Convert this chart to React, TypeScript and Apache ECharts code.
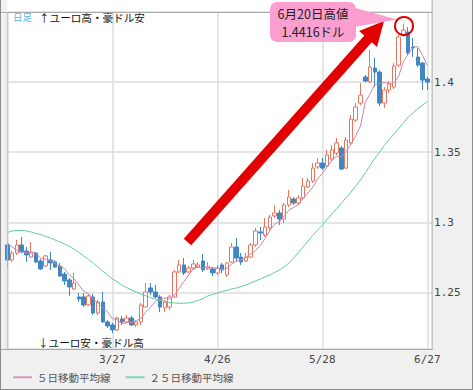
import React, { useEffect, useRef } from 'react';
import * as echarts from 'echarts';

const dates = ['2/25','2/26','2/27','2/28','3/1','3/4','3/5','3/6','3/7','3/8',
'3/11','3/12','3/13','3/14','3/15','3/18','3/19','3/20','3/21','3/22',
'3/25','3/26','3/27','3/28','3/29','4/1','4/2','4/3','4/4','4/5',
'4/8','4/9','4/10','4/11','4/12','4/15','4/16','4/17','4/18','4/19',
'4/22','4/23','4/24','4/25','4/26','4/29','4/30','5/1','5/2','5/3',
'5/6','5/7','5/8','5/9','5/10','5/13','5/14','5/15','5/16','5/17',
'5/20','5/21','5/22','5/23','5/24','5/27','5/28','5/29','5/30','5/31',
'6/3','6/4','6/5','6/6','6/7','6/10','6/11','6/12','6/13','6/14',
'6/17','6/18','6/19','6/20','6/21','6/24','6/25','6/26','6/27','6/28'];

const opens = [1.2839,1.2732,1.2782,1.2839,1.2796,1.2753,1.2782,1.2725,1.2689,1.2732,
1.2718,1.2689,1.2632,1.2590,1.2526,1.2469,1.2469,1.2412,1.2469,1.2355,
1.2433,1.2291,1.2269,1.2234,1.2312,1.2291,1.2319,1.2269,1.2291,1.2397,
1.2533,1.2504,1.2469,1.2390,1.2397,1.2469,1.2647,1.2697,1.2647,1.2675,
1.2682,1.2725,1.2668,1.2668,1.2640,1.2697,1.2625,1.2718,1.2825,1.2753,
1.2725,1.2753,1.2839,1.2932,1.2910,1.2960,1.3046,1.3067,1.3024,1.3124,
1.3167,1.3138,1.3174,1.3252,1.3295,1.3395,1.3423,1.3402,1.3452,1.3494,
1.3530,1.3387,1.3566,1.3729,1.3850,1.4036,1.4000,1.4100,1.4071,1.3850,
1.3943,1.3964,1.4121,1.4335,1.4356,1.4249,1.4178,1.4135,1.4021];

const closes = [1.2732,1.2782,1.2839,1.2789,1.2768,1.2782,1.2718,1.2668,1.2761,1.2711,
1.2682,1.2618,1.2583,1.2540,1.2568,1.2454,1.2412,1.2476,1.2355,1.2433,
1.2291,1.2262,1.2234,1.2319,1.2291,1.2319,1.2269,1.2291,1.2412,1.2504,
1.2504,1.2469,1.2397,1.2433,1.2469,1.2647,1.2697,1.2640,1.2675,1.2704,
1.2697,1.2661,1.2682,1.2640,1.2675,1.2661,1.2711,1.2825,1.2746,1.2718,
1.2753,1.2839,1.2939,1.2924,1.2967,1.3038,1.3067,1.3024,1.3124,1.3181,
1.3138,1.3174,1.3259,1.3295,1.3387,1.3423,1.3387,1.3480,1.3516,1.3566,
1.3380,1.3587,1.3736,1.3822,1.3907,1.4007,1.4107,1.4071,1.3850,1.3943,
1.3986,1.4114,1.4321,1.4370,1.4207,1.4242,1.4121,1.4014,1.4000];

const highs = [1.2853,1.2796,1.2875,1.2896,1.2825,1.2860,1.2789,1.2739,1.2768,1.2789,
1.2732,1.2711,1.2647,1.2604,1.2640,1.2497,1.2497,1.2490,1.2490,1.2447,
1.2504,1.2305,1.2284,1.2326,1.2333,1.2340,1.2333,1.2305,1.2426,1.2568,
1.2568,1.2554,1.2483,1.2447,1.2483,1.2661,1.2732,1.2746,1.2689,1.2732,
1.2718,1.2775,1.2718,1.2682,1.2697,1.2711,1.2718,1.2853,1.2889,1.2782,
1.2782,1.2853,1.2960,1.2967,1.3031,1.3053,1.3124,1.3088,1.3138,1.3231,
1.3181,1.3195,1.3316,1.3316,1.3423,1.3459,1.3459,1.3516,1.3551,1.3601,
1.3544,1.3608,1.3765,1.3850,1.3993,1.4050,1.4228,1.4171,1.4085,1.3964,
1.4007,1.4135,1.4335,1.4416,1.4392,1.4313,1.4242,1.4142,1.4036];

const lows = [1.2675,1.2718,1.2768,1.2782,1.2718,1.2746,1.2711,1.2661,1.2682,1.2661,
1.2675,1.2611,1.2554,1.2476,1.2518,1.2433,1.2397,1.2405,1.2340,1.2340,
1.2284,1.2248,1.2212,1.2226,1.2269,1.2284,1.2262,1.2255,1.2269,1.2397,
1.2483,1.2462,1.2362,1.2362,1.2376,1.2462,1.2640,1.2625,1.2640,1.2661,
1.2675,1.2647,1.2661,1.2618,1.2625,1.2640,1.2611,1.2711,1.2718,1.2697,
1.2718,1.2746,1.2825,1.2875,1.2896,1.2946,1.3031,1.2981,1.2996,1.3110,
1.3124,1.3124,1.3160,1.3245,1.3281,1.3380,1.3373,1.3387,1.3437,1.3480,
1.3373,1.3380,1.3551,1.3715,1.3836,1.4000,1.3993,1.3964,1.3829,1.3815,
1.3922,1.3950,1.4107,1.4321,1.4192,1.4178,1.4107,1.3943,1.3943];

const ma5 = [1.2853,1.2825,1.2803,1.2793,1.2782,1.2792,1.2779,1.2745,1.2739,1.2728,
1.2708,1.2688,1.2671,1.2627,1.2598,1.2553,1.2511,1.2490,1.2453,1.2426,
1.2393,1.2363,1.2315,1.2308,1.2279,1.2285,1.2286,1.2298,1.2316,1.2359,
1.2396,1.2436,1.2457,1.2461,1.2454,1.2483,1.2528,1.2580,1.2625,1.2672,
1.2682,1.2675,1.2684,1.2677,1.2671,1.2664,1.2674,1.2702,1.2724,1.2732,
1.2751,1.2776,1.2799,1.2835,1.2885,1.2942,1.2987,1.3004,1.3044,1.3087,
1.3107,1.3128,1.3175,1.3209,1.3251,1.3308,1.3350,1.3395,1.3439,1.3474,
1.3466,1.3506,1.3557,1.3618,1.3687,1.3855,1.3916,1.3983,1.3989,1.3996,
1.3991,1.3993,1.4043,1.4147,1.4199,1.4251,1.4252,1.4191,1.4117];

const ma25 = [1.2928,1.2939,1.2942,1.2942,1.2939,1.2932,1.2921,1.2914,1.2900,1.2889,
1.2875,1.2860,1.2846,1.2828,1.2810,1.2786,1.2761,1.2736,1.2711,1.2682,
1.2654,1.2625,1.2597,1.2579,1.2554,1.2536,1.2518,1.2504,1.2490,1.2476,
1.2465,1.2454,1.2444,1.2437,1.2429,1.2426,1.2424,1.2424,1.2426,1.2433,
1.2444,1.2458,1.2476,1.2486,1.2497,1.2508,1.2515,1.2526,1.2533,1.2543,
1.2554,1.2568,1.2583,1.2597,1.2611,1.2625,1.2643,1.2661,1.2682,1.2711,
1.2746,1.2786,1.2825,1.2867,1.2907,1.2946,1.2981,1.3021,1.3060,1.3099,
1.3138,1.3177,1.3216,1.3259,1.3302,1.3352,1.3405,1.3455,1.3501,1.3548,
1.3590,1.3630,1.3669,1.3708,1.3751,1.3779,1.3811,1.3836,1.3861];

const seriesNames = ['５日移動平均線', '２５日移動平均線'];
const yMin = 1.2098;
const yMax = 1.4499;
const labelStep = 22;

const CJK = "'Noto Sans CJK JP', sans-serif";
const MONO = "'DejaVu Sans Mono', monospace";

function arrowPoints(tail: number[], tip: number[], sh: number, headLen: number, hh: number) {
  const dx = tip[0] - tail[0];
  const dy = tip[1] - tail[1];
  const len = Math.hypot(dx, dy);
  const ux = dx / len, uy = dy / len;
  const vx = -uy, vy = ux;
  const bx = tip[0] - headLen * ux, by = tip[1] - headLen * uy;
  return [
    [tail[0] - sh * vx, tail[1] - sh * vy],
    [bx - sh * vx, by - sh * vy],
    [bx - hh * vx, by - hh * vy],
    [tip[0], tip[1]],
    [bx + hh * vx, by + hh * vy],
    [bx + sh * vx, by + sh * vy],
    [tail[0] + sh * vx, tail[1] + sh * vy],
  ];
}

export default function App() {
  const ref = useRef<HTMLDivElement>(null);
  useEffect(() => {
    const chart = echarts.init(ref.current!, null, { renderer: 'svg' });
    const candles = opens.map((o, i) => [o, closes[i], lows[i], highs[i]]);
    const borderColor = '#a9a9a9';
    const option: any = {
      animation: false,
      backgroundColor: '#f0f0f0',
      grid: { left: 7.3, right: 40.9, top: 12, bottom: 41, show: true, backgroundColor: '#ffffff', borderWidth: 0 },
      legend: {
        data: seriesNames,
        left: 8,
        top: 367,
        icon: 'rect',
        itemWidth: 19,
        itemHeight: 2,
        itemGap: 15,
        textStyle: { fontSize: 10.5, color: '#555', fontFamily: CJK },
      },
      xAxis: {
        type: 'category',
        data: dates,
        boundaryGap: false,
        axisLine: { show: false },
        axisTick: { show: false },
        axisLabel: {
          interval: (i: number) => i % labelStep === 0 && i > 0,
          color: '#444',
          fontFamily: MONO,
          fontSize: 11,
          margin: 5,
        },
        splitLine: {
          show: true,
          interval: (i: number) => i % labelStep === 0,
          lineStyle: { color: '#dcdcdc', width: 1.5 },
        },
      },
      yAxis: {
        type: 'value',
        position: 'right',
        min: yMin,
        max: yMax,
        splitNumber: 5,
        axisLine: { show: false },
        axisTick: { show: false },
        axisLabel: {
          showMinLabel: false,
          showMaxLabel: false,
          margin: 2,
          color: '#444',
          fontFamily: MONO,
          fontSize: 11,
        },
        splitLine: { lineStyle: { color: '#dcdcdc', width: 1.5 } },
      },
      series: [
        {
          type: 'candlestick',
          data: candles,
          barWidth: 4,
          itemStyle: {
            color: '#ffffff',
            color0: '#3f87c5',
            borderColor: '#e6775f',
            borderColor0: '#3f87c5',
            borderWidth: 1,
          },
          z: 2,
        },
        {
          name: seriesNames[0],
          type: 'line',
          data: ma5,
          symbol: 'none',
          lineStyle: { color: '#c785ad', width: 1 },
          itemStyle: { color: '#d99bbd' },
          z: 3,
        },
        {
          name: seriesNames[1],
          type: 'line',
          data: ma25,
          symbol: 'none',
          lineStyle: { color: '#5fd09a', width: 1 },
          itemStyle: { color: '#7fdab0' },
          z: 3,
        },
      ],
      graphic: [
        { type: 'rect', shape: { x: 7.3, y: 0, width: 424.8, height: 12 }, style: { fill: '#ffffff' }, z: 0 },
        { type: 'line', shape: { x1: 0, y1: 12.5, x2: 432, y2: 12.5 }, style: { stroke: borderColor, lineWidth: 1 }, z: 50 },
        { type: 'line', shape: { x1: 0, y1: 349.5, x2: 432.6, y2: 349.5 }, style: { stroke: borderColor, lineWidth: 1 }, z: 50 },
        { type: 'line', shape: { x1: 7.3, y1: 12, x2: 7.3, y2: 349 }, style: { stroke: '#c4c4c4', lineWidth: 1 }, z: 50 },
        { type: 'line', shape: { x1: 432.1, y1: 0, x2: 432.1, y2: 350 }, style: { stroke: borderColor, lineWidth: 1 }, z: 50 },
        { type: 'line', shape: { x1: 0.5, y1: 0, x2: 0.5, y2: 390 }, style: { stroke: '#8c8c8c', lineWidth: 1 }, z: 50 },
        { type: 'line', shape: { x1: 472.5, y1: 0, x2: 472.5, y2: 390 }, style: { stroke: '#8c8c8c', lineWidth: 1 }, z: 50 },
        { type: 'line', shape: { x1: 0, y1: 389.5, x2: 473, y2: 389.5 }, style: { stroke: '#8c8c8c', lineWidth: 1 }, z: 50 },
        { type: 'text', x: 13, y: 17, style: { text: '日足', fontSize: 9.5, fontFamily: CJK, fill: '#4fb8ee', verticalAlign: 'middle' }, z: 60 },
        { type: 'text', x: 39, y: 17.5, style: { text: '↑ユーロ高・豪ドル安', fontSize: 10.6, fontFamily: CJK, fill: '#111', verticalAlign: 'middle' }, z: 60 },
        { type: 'text', x: 38, y: 342.5, style: { text: '↓ユーロ安・豪ドル高', fontSize: 10.6, fontFamily: CJK, fill: '#111', verticalAlign: 'middle' }, z: 60 },
        { type: 'polygon', shape: { points: arrowPoints([187.5, 242], [384, 21], 5, 24, 12) }, style: { fill: '#e30000' }, z: 70 },
        { type: 'polygon', shape: { points: [[348, 6], [354, 27], [397, 19.5]] }, style: { fill: '#fa9fcf' }, z: 80 },
        { type: 'rect', shape: { x: 270, y: 2, width: 86, height: 40, r: 7 }, style: { fill: '#fa9fcf' }, z: 80 },
        { type: 'text', x: 313, y: 13.5, style: { text: '6月20日高値', fontSize: 12.5, fontFamily: CJK, fill: '#222', align: 'center', verticalAlign: 'middle' }, z: 81 },
        { type: 'text', x: 313, y: 31.5, style: { text: '1.4416ドル', fontSize: 12.5, fontFamily: CJK, fill: '#222', align: 'center', verticalAlign: 'middle' }, z: 81 },
        { type: 'circle', shape: { cx: 404, cy: 26, r: 9 }, style: { fill: 'none', stroke: '#e30000', lineWidth: 2 }, z: 82 },
      ],
    };
    chart.setOption(option);
    return () => chart.dispose();
  }, []);
  return (
    <div
      ref={ref}
      style={{ position: 'fixed', left: 0, top: 0, width: 473, height: 390, background: '#f0f0f0' }}
    />
  );
}
